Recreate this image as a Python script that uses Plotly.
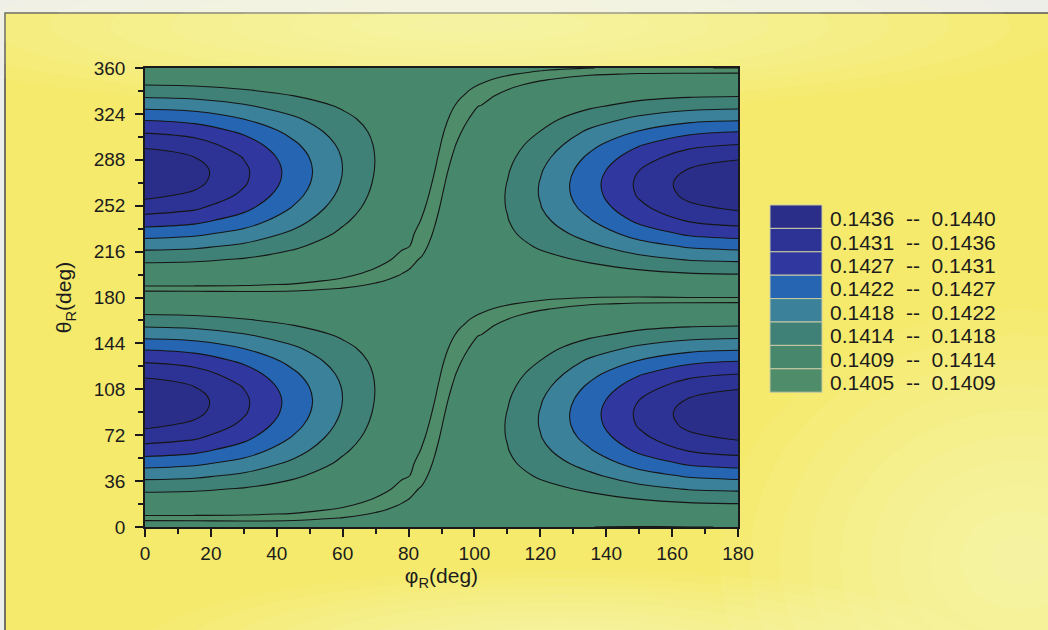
import plotly.graph_objects as go

# ---------------- data ----------------
PHI_DEG = [0, 15, 30, 45, 60, 70, 78, 84, 86, 88, 90, 92, 94, 96, 102, 110, 120, 135, 150, 165, 180]

THETA_DEG = [0, 4, 7, 10, 13, 17, 22, 30, 40, 50, 60, 70, 80, 90, 100, 110, 120, 130, 140, 150,
             158, 163, 167, 171, 175, 178,
             180, 184, 187, 190, 193, 197, 202, 210, 220, 230, 240, 250, 260, 270, 280, 290, 300,
             310, 320, 330, 338, 343, 347, 351, 355, 358, 360]

# field values (rows = theta, columns = phi), lower half: theta 0..178 deg
Z_LOWER = [
    [0.141014, 0.141010, 0.141000, 0.140992, 0.140993, 0.140996, 0.140996, 0.140992, 0.140990, 0.140987, 0.140984, 0.140985, 0.140985, 0.140984, 0.140981, 0.140970, 0.140955, 0.140938, 0.140933, 0.140937, 0.140938],
    [0.140953, 0.140951, 0.140947, 0.140949, 0.140963, 0.140976, 0.140984, 0.140987, 0.140987, 0.140986, 0.140985, 0.140987, 0.140990, 0.140992, 0.140994, 0.140992, 0.140985, 0.140981, 0.140986, 0.140995, 0.140999],
    [0.140907, 0.140907, 0.140908, 0.140917, 0.140940, 0.140961, 0.140975, 0.140982, 0.140984, 0.140985, 0.140985, 0.140989, 0.140993, 0.140997, 0.141004, 0.141007, 0.141008, 0.141014, 0.141026, 0.141039, 0.141044],
    [0.140953, 0.140951, 0.140945, 0.140930, 0.140917, 0.140945, 0.140966, 0.140978, 0.140981, 0.140983, 0.140985, 0.140991, 0.140997, 0.141002, 0.141013, 0.141023, 0.141031, 0.141045, 0.141065, 0.141083, 0.141093],
    [0.140999, 0.140995, 0.140986, 0.140962, 0.140920, 0.140929, 0.140956, 0.140973, 0.140977, 0.140981, 0.140985, 0.140992, 0.141000, 0.141006, 0.141022, 0.141038, 0.141053, 0.141077, 0.141119, 0.141163, 0.141179],
    [0.141059, 0.141054, 0.141039, 0.141005, 0.140950, 0.140908, 0.140943, 0.140966, 0.140973, 0.140979, 0.140984, 0.140994, 0.141003, 0.141012, 0.141034, 0.141058, 0.141082, 0.141147, 0.141224, 0.141294, 0.141320],
    [0.141179, 0.141163, 0.141119, 0.141058, 0.140988, 0.140932, 0.140927, 0.140957, 0.140966, 0.140975, 0.140983, 0.140995, 0.141007, 0.141018, 0.141048, 0.141081, 0.141145, 0.141259, 0.141382, 0.141485, 0.141523],
    [0.141480, 0.141445, 0.141350, 0.141192, 0.141047, 0.140974, 0.140914, 0.140942, 0.140955, 0.140968, 0.140980, 0.140996, 0.141012, 0.141026, 0.141068, 0.141143, 0.141262, 0.141438, 0.141678, 0.141847, 0.141901],
    [0.141946, 0.141889, 0.141718, 0.141440, 0.141145, 0.141024, 0.140947, 0.140922, 0.140940, 0.140958, 0.140975, 0.140995, 0.141014, 0.141034, 0.141091, 0.141224, 0.141418, 0.141723, 0.142058, 0.142293, 0.142381],
    [0.142432, 0.142341, 0.142095, 0.141725, 0.141289, 0.141070, 0.140979, 0.140912, 0.140924, 0.140946, 0.140967, 0.140991, 0.141014, 0.141037, 0.141118, 0.141299, 0.141569, 0.141985, 0.142434, 0.142759, 0.142868],
    [0.142912, 0.142800, 0.142471, 0.141987, 0.141439, 0.141134, 0.141009, 0.140932, 0.140908, 0.140933, 0.140957, 0.140984, 0.141010, 0.141036, 0.141134, 0.141358, 0.141699, 0.142212, 0.142773, 0.143147, 0.143284],
    [0.143322, 0.143182, 0.142801, 0.142213, 0.141580, 0.141208, 0.141035, 0.140951, 0.140923, 0.140919, 0.140946, 0.140975, 0.141004, 0.141032, 0.141139, 0.141391, 0.141793, 0.142395, 0.143019, 0.143454, 0.143629],
    [0.143663, 0.143479, 0.143038, 0.142394, 0.141698, 0.141275, 0.141058, 0.140969, 0.140939, 0.140910, 0.140934, 0.140964, 0.140994, 0.141023, 0.141132, 0.141400, 0.141836, 0.142506, 0.143169, 0.143664, 0.143888],
    [0.143903, 0.143678, 0.143177, 0.142505, 0.141778, 0.141327, 0.141076, 0.140985, 0.140954, 0.140924, 0.140921, 0.140951, 0.140981, 0.141012, 0.141114, 0.141383, 0.141830, 0.142533, 0.143204, 0.143722, 0.143949],
    [0.143944, 0.143717, 0.143201, 0.142531, 0.141810, 0.141358, 0.141093, 0.140998, 0.140968, 0.140938, 0.140907, 0.140937, 0.140967, 0.140997, 0.141087, 0.141341, 0.141775, 0.142471, 0.143121, 0.143588, 0.143806],
    [0.143782, 0.143565, 0.143107, 0.142468, 0.141791, 0.141364, 0.141106, 0.141009, 0.140980, 0.140950, 0.140921, 0.140922, 0.140950, 0.140979, 0.141064, 0.141276, 0.141672, 0.142329, 0.142931, 0.143344, 0.143496],
    [0.143463, 0.143314, 0.142906, 0.142325, 0.141723, 0.141344, 0.141109, 0.141017, 0.140990, 0.140962, 0.140934, 0.140908, 0.140933, 0.140959, 0.141038, 0.141199, 0.141536, 0.142126, 0.142650, 0.142999, 0.143125],
    [0.143084, 0.142961, 0.142616, 0.142122, 0.141614, 0.141301, 0.141102, 0.141022, 0.140997, 0.140971, 0.140946, 0.140923, 0.140914, 0.140937, 0.141008, 0.141118, 0.141383, 0.141887, 0.142283, 0.142579, 0.142688],
    [0.142637, 0.142532, 0.142245, 0.141884, 0.141477, 0.141240, 0.141085, 0.141022, 0.141001, 0.140979, 0.140957, 0.140938, 0.140919, 0.140915, 0.140975, 0.141057, 0.141228, 0.141606, 0.141911, 0.142109, 0.142182],
    [0.142133, 0.142064, 0.141874, 0.141602, 0.141329, 0.141168, 0.141069, 0.141020, 0.141003, 0.140985, 0.140967, 0.140952, 0.140937, 0.140922, 0.140940, 0.141007, 0.141091, 0.141315, 0.141523, 0.141661, 0.141711],
    [0.141761, 0.141707, 0.141560, 0.141381, 0.141209, 0.141109, 0.141053, 0.141015, 0.141002, 0.140988, 0.140973, 0.140962, 0.140951, 0.140940, 0.140911, 0.140964, 0.141029, 0.141132, 0.141254, 0.141331, 0.141359],
    [0.141523, 0.141485, 0.141382, 0.141257, 0.141140, 0.141077, 0.141042, 0.141011, 0.141000, 0.140989, 0.140976, 0.140968, 0.140960, 0.140951, 0.140921, 0.140937, 0.140991, 0.141059, 0.141119, 0.141163, 0.141179],
    [0.141359, 0.141331, 0.141254, 0.141166, 0.141088, 0.141059, 0.141032, 0.141008, 0.140999, 0.140989, 0.140979, 0.140973, 0.140966, 0.140959, 0.140935, 0.140915, 0.140960, 0.141016, 0.141052, 0.141068, 0.141074],
    [0.141211, 0.141193, 0.141143, 0.141088, 0.141059, 0.141040, 0.141022, 0.141004, 0.140996, 0.140989, 0.140981, 0.140977, 0.140972, 0.140967, 0.140949, 0.140921, 0.140929, 0.140973, 0.141000, 0.141010, 0.141014],
    [0.141093, 0.141083, 0.141065, 0.141045, 0.141030, 0.141021, 0.141011, 0.140999, 0.140994, 0.140988, 0.140982, 0.140980, 0.140978, 0.140975, 0.140963, 0.140943, 0.140916, 0.140930, 0.140947, 0.140951, 0.140953],
    [0.141044, 0.141039, 0.141026, 0.141013, 0.141008, 0.141006, 0.141002, 0.140995, 0.140992, 0.140988, 0.140983, 0.140983, 0.140982, 0.140981, 0.140974, 0.140960, 0.140939, 0.140917, 0.140907, 0.140907, 0.140907],
]

# upper half: theta 180..360 deg (the picture repeats the same pattern)
Z_UPPER = [
    [0.141014, 0.141010, 0.141000, 0.140992, 0.140993, 0.140996, 0.140996, 0.140992, 0.140990, 0.140987, 0.140984, 0.140985, 0.140985, 0.140984, 0.140981, 0.140970, 0.140955, 0.140938, 0.140933, 0.140937, 0.140938],
    [0.140953, 0.140951, 0.140947, 0.140949, 0.140963, 0.140976, 0.140984, 0.140987, 0.140987, 0.140986, 0.140985, 0.140987, 0.140990, 0.140992, 0.140994, 0.140992, 0.140985, 0.140981, 0.140986, 0.140995, 0.140999],
    [0.140907, 0.140907, 0.140908, 0.140917, 0.140940, 0.140961, 0.140975, 0.140982, 0.140984, 0.140985, 0.140985, 0.140989, 0.140993, 0.140997, 0.141004, 0.141007, 0.141008, 0.141014, 0.141026, 0.141039, 0.141044],
    [0.140953, 0.140951, 0.140945, 0.140930, 0.140917, 0.140945, 0.140966, 0.140978, 0.140981, 0.140983, 0.140985, 0.140991, 0.140997, 0.141002, 0.141013, 0.141023, 0.141031, 0.141045, 0.141065, 0.141083, 0.141093],
    [0.140999, 0.140995, 0.140986, 0.140962, 0.140920, 0.140929, 0.140956, 0.140973, 0.140977, 0.140981, 0.140985, 0.140992, 0.141000, 0.141006, 0.141022, 0.141038, 0.141053, 0.141077, 0.141119, 0.141163, 0.141179],
    [0.141059, 0.141054, 0.141039, 0.141005, 0.140950, 0.140908, 0.140943, 0.140966, 0.140973, 0.140979, 0.140984, 0.140994, 0.141003, 0.141012, 0.141034, 0.141058, 0.141082, 0.141147, 0.141224, 0.141294, 0.141320],
    [0.141179, 0.141163, 0.141119, 0.141058, 0.140988, 0.140932, 0.140927, 0.140957, 0.140966, 0.140975, 0.140983, 0.140995, 0.141007, 0.141018, 0.141048, 0.141081, 0.141145, 0.141259, 0.141382, 0.141485, 0.141523],
    [0.141480, 0.141445, 0.141350, 0.141192, 0.141047, 0.140974, 0.140914, 0.140942, 0.140955, 0.140968, 0.140980, 0.140996, 0.141012, 0.141026, 0.141068, 0.141143, 0.141262, 0.141438, 0.141678, 0.141847, 0.141901],
    [0.141946, 0.141889, 0.141718, 0.141440, 0.141145, 0.141024, 0.140947, 0.140922, 0.140940, 0.140958, 0.140975, 0.140995, 0.141014, 0.141034, 0.141091, 0.141224, 0.141418, 0.141723, 0.142058, 0.142293, 0.142381],
    [0.142432, 0.142341, 0.142095, 0.141725, 0.141289, 0.141070, 0.140979, 0.140912, 0.140924, 0.140946, 0.140967, 0.140991, 0.141014, 0.141037, 0.141118, 0.141299, 0.141569, 0.141985, 0.142434, 0.142759, 0.142868],
    [0.142912, 0.142800, 0.142471, 0.141987, 0.141439, 0.141134, 0.141009, 0.140932, 0.140908, 0.140933, 0.140957, 0.140984, 0.141010, 0.141036, 0.141134, 0.141358, 0.141699, 0.142212, 0.142773, 0.143147, 0.143284],
    [0.143322, 0.143182, 0.142801, 0.142213, 0.141580, 0.141208, 0.141035, 0.140951, 0.140923, 0.140919, 0.140946, 0.140975, 0.141004, 0.141032, 0.141139, 0.141391, 0.141793, 0.142395, 0.143019, 0.143454, 0.143629],
    [0.143663, 0.143479, 0.143038, 0.142394, 0.141698, 0.141275, 0.141058, 0.140969, 0.140939, 0.140910, 0.140934, 0.140964, 0.140994, 0.141023, 0.141132, 0.141400, 0.141836, 0.142506, 0.143169, 0.143664, 0.143888],
    [0.143903, 0.143678, 0.143177, 0.142505, 0.141778, 0.141327, 0.141076, 0.140985, 0.140954, 0.140924, 0.140921, 0.140951, 0.140981, 0.141012, 0.141114, 0.141383, 0.141830, 0.142533, 0.143204, 0.143722, 0.143949],
    [0.143944, 0.143717, 0.143201, 0.142531, 0.141810, 0.141358, 0.141093, 0.140998, 0.140968, 0.140938, 0.140907, 0.140937, 0.140967, 0.140997, 0.141087, 0.141341, 0.141775, 0.142471, 0.143121, 0.143588, 0.143806],
    [0.143782, 0.143565, 0.143107, 0.142468, 0.141791, 0.141364, 0.141106, 0.141009, 0.140980, 0.140950, 0.140921, 0.140922, 0.140950, 0.140979, 0.141064, 0.141276, 0.141672, 0.142329, 0.142931, 0.143344, 0.143496],
    [0.143463, 0.143314, 0.142906, 0.142325, 0.141723, 0.141344, 0.141109, 0.141017, 0.140990, 0.140962, 0.140934, 0.140908, 0.140933, 0.140959, 0.141038, 0.141199, 0.141536, 0.142126, 0.142650, 0.142999, 0.143125],
    [0.143084, 0.142961, 0.142616, 0.142122, 0.141614, 0.141301, 0.141102, 0.141022, 0.140997, 0.140971, 0.140946, 0.140923, 0.140914, 0.140937, 0.141008, 0.141118, 0.141383, 0.141887, 0.142283, 0.142579, 0.142688],
    [0.142637, 0.142532, 0.142245, 0.141884, 0.141477, 0.141240, 0.141085, 0.141022, 0.141001, 0.140979, 0.140957, 0.140938, 0.140919, 0.140915, 0.140975, 0.141057, 0.141228, 0.141606, 0.141911, 0.142109, 0.142182],
    [0.142133, 0.142064, 0.141874, 0.141602, 0.141329, 0.141168, 0.141069, 0.141020, 0.141003, 0.140985, 0.140967, 0.140952, 0.140937, 0.140922, 0.140940, 0.141007, 0.141091, 0.141315, 0.141523, 0.141661, 0.141711],
    [0.141761, 0.141707, 0.141560, 0.141381, 0.141209, 0.141109, 0.141053, 0.141015, 0.141002, 0.140988, 0.140973, 0.140962, 0.140951, 0.140940, 0.140911, 0.140964, 0.141029, 0.141132, 0.141254, 0.141331, 0.141359],
    [0.141523, 0.141485, 0.141382, 0.141257, 0.141140, 0.141077, 0.141042, 0.141011, 0.141000, 0.140989, 0.140976, 0.140968, 0.140960, 0.140951, 0.140921, 0.140937, 0.140991, 0.141059, 0.141119, 0.141163, 0.141179],
    [0.141359, 0.141331, 0.141254, 0.141166, 0.141088, 0.141059, 0.141032, 0.141008, 0.140999, 0.140989, 0.140979, 0.140973, 0.140966, 0.140959, 0.140935, 0.140915, 0.140960, 0.141016, 0.141052, 0.141068, 0.141074],
    [0.141211, 0.141193, 0.141143, 0.141088, 0.141059, 0.141040, 0.141022, 0.141004, 0.140996, 0.140989, 0.140981, 0.140977, 0.140972, 0.140967, 0.140949, 0.140921, 0.140929, 0.140973, 0.141000, 0.141010, 0.141014],
    [0.141093, 0.141083, 0.141065, 0.141045, 0.141030, 0.141021, 0.141011, 0.140999, 0.140994, 0.140988, 0.140982, 0.140980, 0.140978, 0.140975, 0.140963, 0.140943, 0.140916, 0.140930, 0.140947, 0.140951, 0.140953],
    [0.141044, 0.141039, 0.141026, 0.141013, 0.141008, 0.141006, 0.141002, 0.140995, 0.140992, 0.140988, 0.140983, 0.140983, 0.140982, 0.140981, 0.140974, 0.140960, 0.140939, 0.140917, 0.140907, 0.140907, 0.140907],
    [0.141014, 0.141010, 0.141000, 0.140992, 0.140993, 0.140996, 0.140996, 0.140992, 0.140990, 0.140987, 0.140984, 0.140985, 0.140985, 0.140984, 0.140981, 0.140970, 0.140955, 0.140938, 0.140933, 0.140937, 0.140938],
]

LEVELS = [0.1405, 0.1409, 0.1414, 0.1418, 0.1422, 0.1427, 0.1431, 0.1436, 0.1440]
BAND_COLORS = ["#4e8c6a", "#47876c", "#3f8077", "#3a8199", "#2565b2", "#3038a0", "#2d3394", "#2a2e88"]

X_TICKS = [0, 20, 40, 60, 80, 100, 120, 140, 160, 180]
Y_TICKS = [0, 36, 72, 108, 144, 180, 216, 252, 288, 324, 360]

# ---------------- figure ----------------
FONT = "Liberation Sans, Arial, sans-serif"
W, H = 1048, 630
L, R, T, B = 145, 310, 68, 103
PW, PH = W - L - R, H - T - B

n_bands = len(LEVELS) - 1
step = (LEVELS[-1] - LEVELS[0]) / n_bands
nc = n_bands + 1
colorscale = [[0.0, BAND_COLORS[0]]]
for j, c in enumerate(BAND_COLORS):
    colorscale.append([(j + 1) / nc, c])
colorscale.append([1.0, BAND_COLORS[-1]])

z = Z_LOWER + Z_UPPER

fig = go.Figure()
fig.add_trace(go.Contour(
    x=PHI_DEG, y=THETA_DEG, z=z,
    colorscale=colorscale, showscale=False,
    contours=dict(start=LEVELS[0], end=LEVELS[-1], size=step,
                  coloring="fill", showlines=True),
    line=dict(color="#161616", width=1.1, smoothing=1.0),
    hoverinfo="skip",
))


def px_x(px):
    return (px - L) / PW


def px_y(py):
    return (H - B - py) / PH


def ellipse(cx, cy, rx, ry, color):
    return dict(type="circle", xref="paper", yref="paper", layer="below",
                x0=px_x(cx - rx), x1=px_x(cx + rx), y0=px_y(cy + ry), y1=px_y(cy - ry),
                fillcolor=color, line=dict(width=0))


shapes = []
# page background: scanned yellow sheet with a dark frame
shapes.append(dict(type="rect", xref="paper", yref="paper", layer="below",
                   x0=px_x(5), x1=px_x(W + 20), y0=px_y(H + 20), y1=px_y(13),
                   fillcolor="#f5ea6c", line=dict(color="#4a4a4a", width=1.5)))
soft = "rgba(255,252,218,0.075)"
n_rings = 10
for k in range(n_rings):
    f = 1 - k / n_rings
    shapes.append(ellipse(470, 25, 600 * f, 85 * f, soft))
    shapes.append(ellipse(1020, 560, 300 * f, 250 * f, soft))
    shapes.append(ellipse(560, 650, 420 * f, 80 * f, soft))

# legend boxes and labels
box_top, box_h = 205, 23.4
annotations = []
for k in range(n_bands):
    j = n_bands - 1 - k
    y0 = box_top + k * box_h
    shapes.append(dict(type="rect", xref="paper", yref="paper", layer="above",
                       x0=px_x(770), x1=px_x(822), y0=px_y(y0 + box_h), y1=px_y(y0),
                       fillcolor=BAND_COLORS[j], line=dict(color="#c9caa4", width=1)))
    label = f"{LEVELS[j]:.4f}\u00a0\u00a0--\u00a0\u00a0{LEVELS[j + 1]:.4f}"
    annotations.append(dict(xref="paper", yref="paper", x=px_x(828), y=px_y(y0 + box_h / 2 + 2),
                            xanchor="left", yanchor="middle", showarrow=False, text=label,
                            font=dict(family=FONT, size=21, color="#1c1c1c")))

axis_common = dict(showgrid=False, zeroline=False, showline=True, linecolor="#1a1a1a",
                   linewidth=1.5, mirror=True, ticks="outside", ticklen=8, tickwidth=1.5,
                   tickcolor="#1a1a1a", automargin=False,
                   tickfont=dict(family=FONT, size=19, color="#1c1c1c"))

fig.update_layout(
    width=W, height=H,
    margin=dict(l=L, r=R, t=T, b=B, pad=0),
    paper_bgcolor="#ededeb",
    plot_bgcolor=BAND_COLORS[0],
    showlegend=False,
    shapes=shapes,
    annotations=annotations,
    xaxis=dict(range=[PHI_DEG[0], PHI_DEG[-1]], tickvals=X_TICKS,
               minor=dict(dtick=10, tick0=0, ticks="outside", ticklen=5, tickwidth=1.5, tickcolor="#1a1a1a"),
               title=dict(text="φ<sub>R</sub>(deg)", standoff=6,
                          font=dict(family=FONT, size=21, color="#1c1c1c")),
               **axis_common),
    yaxis=dict(range=[THETA_DEG[0], THETA_DEG[-1]], tickvals=Y_TICKS, ticklabelstandoff=6,
               minor=dict(dtick=18, tick0=0, ticks="outside", ticklen=5, tickwidth=1.5, tickcolor="#1a1a1a"),
               title=dict(text="θ<sub>R</sub>(deg)", standoff=16,
                          font=dict(family=FONT, size=21, color="#1c1c1c")),
               **axis_common),
)

fig.write_html("out.html", config={"displayModeBar": False},
               post_script="document.body.style.margin='0';document.body.style.overflow='hidden';")
